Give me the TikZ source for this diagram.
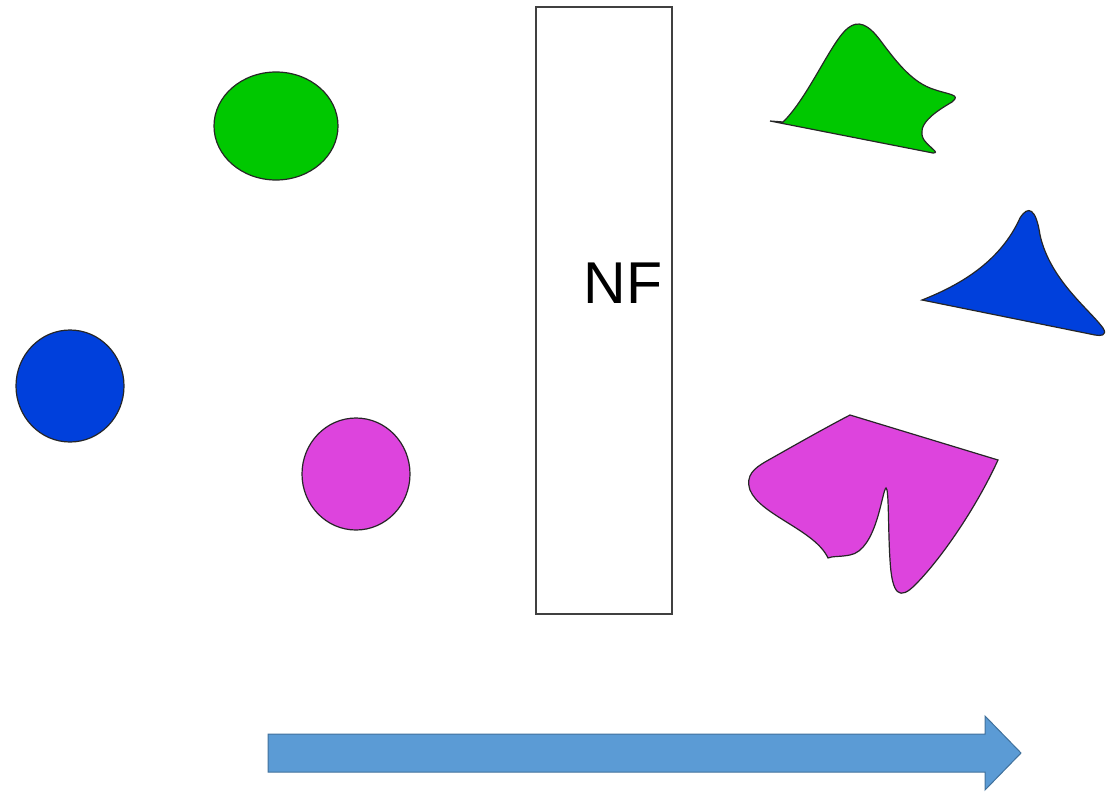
\documentclass[tikz,border=0pt]{standalone}
\usepackage{fontspec}
\setmainfont{Liberation Sans}
\definecolor{cgreen}{RGB}{0,200,0}
\definecolor{cblue}{RGB}{0,64,220}
\definecolor{cmag}{RGB}{221,68,221}
\definecolor{arrfill}{RGB}{91,155,213}
\definecolor{arrline}{RGB}{65,113,156}
\begin{document}
\begin{tikzpicture}[x=1pt,y=-1pt,
  blob/.style={draw=black!85,line width=1.2pt},
  filter/.style={draw=black!75,line width=1.2pt,fill=white,minimum width=136pt,minimum height=607pt,inner sep=0pt}]
\useasboundingbox (0,0) rectangle (1115,795);
% circles
\draw[blob,fill=cgreen] (276,126) ellipse [x radius=62, y radius=54];
\draw[blob,fill=cblue] (70,386) ellipse [x radius=54, y radius=56];
\draw[blob,fill=cmag] (356,474) ellipse [x radius=54, y radius=56];
% filter
\node[filter] (nf) at (604,310.5) {};
\node[font=\fontsize{59}{61}\selectfont,inner sep=0pt] (nflabel) at (623,283) {NF};
% green shape
\draw[blob,fill=cgreen] (770,121) -- (783,122)
  .. controls (808,98) and (832,40) .. (848,28)
  .. controls (858,20) and (868,24) .. (880,40)
  .. controls (895,60) and (910,80) .. (930,88)
  .. controls (948,95) and (962,94) .. (952,102)
  .. controls (935,112) and (915,125) .. (924,140)
  .. controls (930,148) and (940,153) .. (933,153)
  -- cycle;
% blue shape
\draw[blob,fill=cblue] (922,300)
  .. controls (960,285) and (1000,262) .. (1020,218)
  .. controls (1028,205) and (1036,208) .. (1040,235)
  .. controls (1050,280) and (1090,310) .. (1103,328)
  .. controls (1108,336) and (1100,336) .. (1095,335)
  -- cycle;
% magenta shape
\draw[blob,fill=cmag] (850,415) -- (998,460)
  .. controls (975,510) and (940,560) .. (915,585)
  .. controls (900,600) and (892,596) .. (890,560)
  .. controls (888,530) and (889,488) .. (886,488)
  .. controls (882,490) and (877,550) .. (850,555)
  .. controls (840,557) and (832,556) .. (828,558)
  .. controls (815,530) and (760,515) .. (750,490)
  .. controls (745,475) and (755,468) .. (765,462)
  .. controls (795,445) and (825,428) .. (850,415)
  -- cycle;
% arrow
\draw[draw=arrline,fill=arrfill,line width=1pt] (268,734) -- (985,734) -- (985,716) -- (1021,753) -- (985,790) -- (985,772) -- (268,772) -- cycle;
\end{tikzpicture}
\end{document}
